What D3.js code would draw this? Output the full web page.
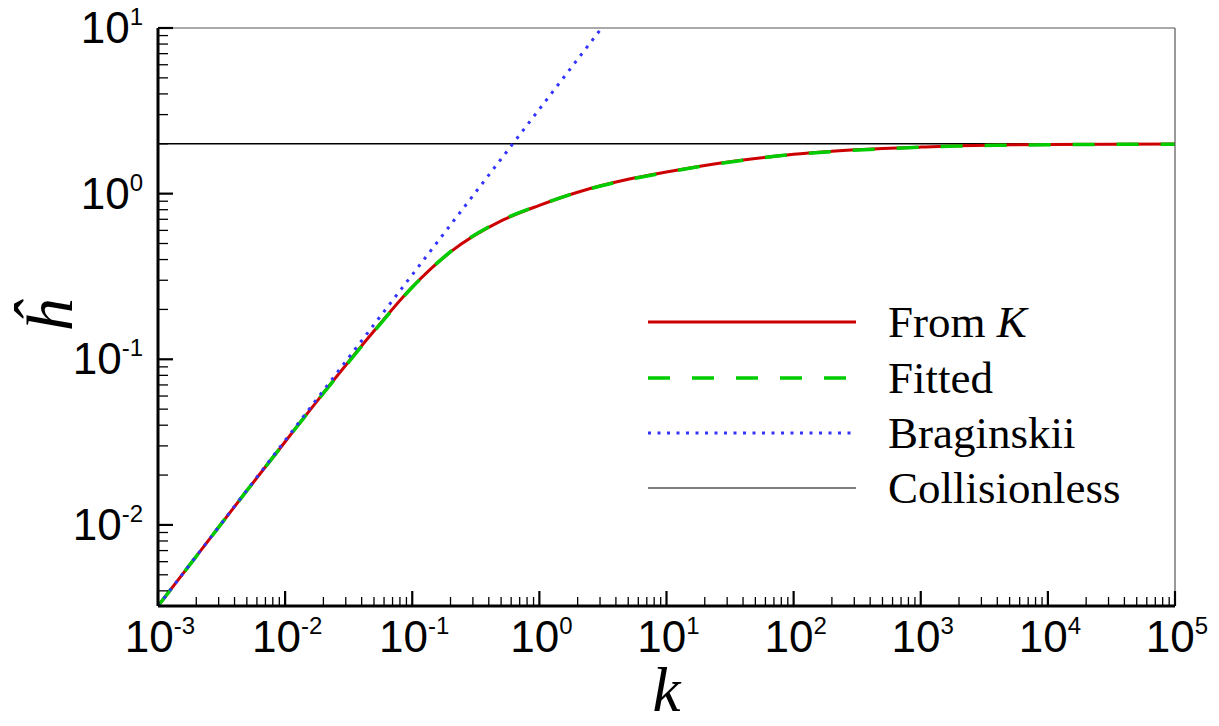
<!DOCTYPE html>
<html>
<head>
<meta charset="utf-8">
<script src="https://cdn.jsdelivr.net/npm/d3@7"></script>
<style>
  body { margin: 0; background: #fff; }
  svg { display: block; }
</style>
</head>
<body>
<svg id="chart" width="1219" height="726"></svg>
<script>
// values
const kVals = [0.001, 0.002, 0.005, 0.01, 0.02, 0.05, 0.1, 0.2, 0.5, 1, 2, 5, 10, 20, 50, 100, 200, 500, 1000, 2000, 5000, 10000, 100000];
const hFromK = [0.00324, 0.00646, 0.0161, 0.0318, 0.0625, 0.148, 0.273, 0.445, 0.685, 0.85, 1.02, 1.22, 1.35, 1.48, 1.63, 1.73, 1.80, 1.87, 1.91, 1.945, 1.97, 1.982, 1.997];
const hFitted = [0.00324, 0.00646, 0.0161, 0.0318, 0.0624, 0.147, 0.272, 0.446, 0.688, 0.852, 1.02, 1.215, 1.345, 1.475, 1.625, 1.725, 1.795, 1.865, 1.905, 1.94, 1.962, 1.975, 1.99];
const kBrag = [0.001, 3.09];
const hBrag = [0.00324, 10];
const kColl = [0.001, 100000];
const hColl = [2, 2];

const xTickExp = [-3, -2, -1, 0, 1, 2, 3, 4, 5];
const yTickExp = [-2, -1, 0, 1];
const legendNames = ["From K", "Fitted", "Braginskii", "Collisionless"];

const svg = d3.select("#chart");
const pLeft = 158, pRight = 1175, pTop = 28, pBottom = 606;

const x = d3.scaleLog().domain([1e-3, 1e5]).range([pLeft, pRight]);
const y = d3.scaleLog().domain([0.00324, 10]).range([pBottom, pTop]);

svg.append("defs").append("clipPath").attr("id", "plotClip")
    .append("rect")
    .attr("x", pLeft).attr("y", pTop)
    .attr("width", pRight - pLeft).attr("height", pBottom - pTop);

// series styles
const series = [
    { name: "Collisionless", k: kColl, h: hColl, color: "#000", width: 1.4, dash: null },
    { name: "From K", k: kVals, h: hFromK, color: "#cc0000", width: 3, dash: null },
    { name: "Fitted", k: kVals, h: hFitted, color: "#00cc00", width: 3.5, dash: "22 22" },
    { name: "Braginskii", k: kBrag, h: hBrag, color: "#3333ff", width: 3, dash: "3 6.5" }
];

const line = d3.line()
    .x(d => x(d[0]))
    .y(d => y(d[1]))
    .curve(d3.curveMonotoneX);

const plot = svg.append("g").attr("clip-path", "url(#plotClip)");
series.forEach(s => {
    plot.append("path")
        .datum(s.k.map((k, i) => [k, s.h[i]]))
        .attr("d", line)
        .attr("fill", "none")
        .attr("stroke", s.color)
        .attr("stroke-width", s.width)
        .attr("stroke-dasharray", s.dash);
});

// frame: thin top/right, heavy left/bottom
svg.append("line").attr("x1", pLeft).attr("x2", pRight).attr("y1", pTop).attr("y2", pTop)
    .attr("stroke", "#555").attr("stroke-width", 1.2);
svg.append("line").attr("x1", pRight).attr("x2", pRight).attr("y1", pTop).attr("y2", pBottom)
    .attr("stroke", "#555").attr("stroke-width", 1.2);

const ticks = svg.append("g");
// x ticks
for (let e = -3; e <= 5; e++) {
    const base = Math.pow(10, e);
    ticks.append("line")
        .attr("x1", x(base)).attr("x2", x(base))
        .attr("y1", pBottom).attr("y2", pBottom - 15)
        .attr("stroke", "#000").attr("stroke-width", 2.2);
    if (e < 5) {
        for (let m = 2; m <= 9; m++) {
            ticks.append("line")
                .attr("x1", x(m * base)).attr("x2", x(m * base))
                .attr("y1", pBottom).attr("y2", pBottom - 9)
                .attr("stroke", "#000").attr("stroke-width", 1.3);
        }
    }
}
// y ticks
for (let e = -3; e <= 1; e++) {
    const base = Math.pow(10, e);
    if (e >= -2) {
        ticks.append("line")
            .attr("x1", pLeft).attr("x2", pLeft + 15)
            .attr("y1", y(base)).attr("y2", y(base))
            .attr("stroke", "#000").attr("stroke-width", 2.2);
    }
    if (e < 1) {
        for (let m = 2; m <= 9; m++) {
            const v = m * base;
            if (v < y.domain()[0]) continue;
            ticks.append("line")
                .attr("x1", pLeft).attr("x2", pLeft + 10)
                .attr("y1", y(v)).attr("y2", y(v))
                .attr("stroke", "#000").attr("stroke-width", 1.3);
        }
    }
}

svg.append("line").attr("x1", pLeft).attr("x2", pRight).attr("y1", pBottom).attr("y2", pBottom)
    .attr("stroke", "#000").attr("stroke-width", 3);
svg.append("line").attr("x1", pLeft).attr("x2", pLeft).attr("y1", pTop).attr("y2", pBottom)
    .attr("stroke", "#000").attr("stroke-width", 3);

// tick labels
const labelFont = "'Liberation Sans', Arimo, Arial, Helvetica, sans-serif";
function powLabel(sel, e) {
    sel.append("tspan").text("10");
    sel.append("tspan").attr("dy", -18).attr("font-size", 24).text(e);
}
xTickExp.forEach(e => {
    const t = svg.append("text")
        .attr("x", x(Math.pow(10, e)) + 2)
        .attr("y", pBottom + 46)
        .attr("text-anchor", "middle")
        .attr("font-family", labelFont)
        .attr("font-size", 44);
    powLabel(t, e);
});
yTickExp.forEach(e => {
    const t = svg.append("text")
        .attr("x", 143)
        .attr("y", y(Math.pow(10, e)) + 15)
        .attr("text-anchor", "end")
        .attr("font-family", labelFont)
        .attr("font-size", 44);
    powLabel(t, e);
});

// axis titles
const serif = "'Liberation Serif', 'Times New Roman', serif";
svg.append("text")
    .attr("x", (pLeft + pRight) / 2)
    .attr("y", 711)
    .attr("text-anchor", "middle")
    .attr("font-family", serif)
    .attr("font-style", "italic")
    .attr("font-size", 63)
    .text("k");
svg.append("text")
    .attr("transform", "translate(72,316) rotate(-90)")
    .attr("text-anchor", "middle")
    .attr("font-family", serif)
    .attr("font-style", "italic")
    .attr("font-size", 66)
    .text("\u0125");

// legend
const legendRows = [322, 378, 433, 488];
const legendStyle = [series[1], series[2], series[3], series[0]];
const legend = svg.append("g");
legendNames.forEach((name, i) => {
    const s = legendStyle[i];
    legend.append("line")
        .attr("x1", 648).attr("x2", 856)
        .attr("y1", legendRows[i]).attr("y2", legendRows[i])
        .attr("stroke", s.color)
        .attr("stroke-width", s.width === 1.4 ? 1.2 : s.width)
        .attr("stroke-dasharray", s.dash);
    const t = legend.append("text")
        .attr("x", 888)
        .attr("y", legendRows[i] + 15)
        .attr("font-family", serif)
        .attr("font-size", 45);
    if (name === "From K") {
        t.append("tspan").text("From ");
        t.append("tspan").attr("font-style", "italic").text("K");
    } else {
        t.text(name);
    }
});
</script>
</body>
</html>
